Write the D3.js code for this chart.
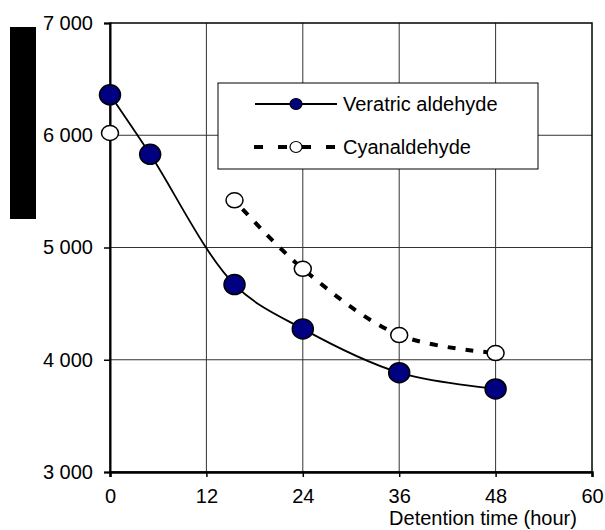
<!DOCTYPE html>
<html>
<head>
<meta charset="utf-8">
<script src="https://cdn.jsdelivr.net/npm/d3@7"></script>
<style>
  body { margin: 0; background: #fff; }
  text { font-family: "Liberation Sans", Arial, sans-serif; }
</style>
</head>
<body>
<div id="container"></div>
<script>
/* DATA */
const hours = [0, 5, 15.5, 24, 36, 48];
const veratric = [6360, 5830, 4670, 4275, 3885, 3740];
const cyanHours = [0, 15.5, 24, 36, 48];
const cyanaldehyde = [6020, 5420, 4810, 4220, 4060];
const xTicks = [0, 12, 24, 36, 48, 60];
const yTicks = [3000, 4000, 5000, 6000, 7000];
const seriesNames = ["Veratric aldehyde", "Cyanaldehyde"];

/* LAYOUT */
const margin = {top: 23, right: 13, bottom: 58, left: 110};
const W = 605, H = 530;
const width = W - margin.left - margin.right;
const height = H - margin.top - margin.bottom;

const svg = d3.select("#container").append("svg")
    .attr("width", W)
    .attr("height", H);

const g = svg.append("g")
    .attr("transform", "translate(" + margin.left + "," + margin.top + ")");

const x = d3.scaleLinear().domain([0, 60]).range([0, width]);
const y = d3.scaleLinear().domain([3000, 7000]).range([height, 0]);

const fmt = d => d3.format(",")(d).replace(",", " ");

// grid lines
g.selectAll("line.vgrid")
  .data(xTicks.slice(1, -1))
  .join("line")
    .attr("x1", d => x(d)).attr("x2", d => x(d))
    .attr("y1", 0).attr("y2", height)
    .attr("stroke", "#333").attr("stroke-width", 1);

g.selectAll("line.hgrid")
  .data(yTicks.slice(1, -1))
  .join("line")
    .attr("x1", 0).attr("x2", width)
    .attr("y1", d => y(d)).attr("y2", d => y(d))
    .attr("stroke", "#333").attr("stroke-width", 1);

// plot frame
g.append("rect")
  .attr("width", width).attr("height", height)
  .attr("fill", "none").attr("stroke", "#000").attr("stroke-width", 1.5);

// axes
const xAxis = g.append("g")
  .attr("transform", "translate(0," + height + ")")
  .call(d3.axisBottom(x).tickValues(xTicks).tickSize(5).tickPadding(12));
xAxis.select(".domain").attr("stroke-width", 2.5);
xAxis.selectAll(".tick line").attr("stroke-width", 1.5);
xAxis.selectAll("text").style("font-size", "20px").style("fill", "#000");

const yAxis = g.append("g")
  .call(d3.axisLeft(y).tickValues(yTicks).tickFormat(fmt).tickSize(6).tickPadding(11));
yAxis.select(".domain").attr("stroke-width", 2);
yAxis.selectAll(".tick line").attr("stroke-width", 1.5);
yAxis.selectAll("text").style("font-size", "20px").style("fill", "#000");

// x axis title
svg.append("text")
  .attr("x", 483).attr("y", 525)
  .attr("text-anchor", "middle")
  .style("font-size", "20px")
  .text("Detention time (hour)");

// blacked-out y label
svg.append("rect")
  .attr("x", 10).attr("y", 27).attr("width", 26).attr("height", 192)
  .attr("fill", "#000");

// lines
const vData = hours.map((h, i) => [h, veratric[i]]);
const cData = cyanHours.map((h, i) => [h, cyanaldehyde[i]]);

const line = d3.line()
  .x(d => x(d[0])).y(d => y(d[1]))
  .curve(d3.curveCatmullRom.alpha(0.5));

g.append("path")
  .datum(vData)
  .attr("d", line)
  .attr("fill", "none").attr("stroke", "#000").attr("stroke-width", 1.8);

g.append("path")
  .datum(cData.slice(1))
  .attr("d", line)
  .attr("fill", "none").attr("stroke", "#000").attr("stroke-width", 4)
  .attr("stroke-dasharray", "8,10")
  .attr("stroke-dashoffset", -12);

// markers
g.selectAll("ellipse.cy")
  .data(cData)
  .join("ellipse")
    .attr("cx", d => x(d[0])).attr("cy", d => y(d[1]))
    .attr("rx", 8.5).attr("ry", 7.5)
    .attr("fill", "#fff").attr("stroke", "#000").attr("stroke-width", 1.5);

g.selectAll("ellipse.ve")
  .data(vData)
  .join("ellipse")
    .attr("cx", d => x(d[0])).attr("cy", d => y(d[1]))
    .attr("rx", 10.5).attr("ry", 10)
    .attr("fill", "#000080").attr("stroke", "#000").attr("stroke-width", 1.5);

// legend
const lg = svg.append("g");
lg.append("rect")
  .attr("x", 218).attr("y", 83).attr("width", 320).attr("height", 86)
  .attr("fill", "#fff").attr("stroke", "#000").attr("stroke-width", 1);

lg.append("line")
  .attr("x1", 255).attr("x2", 337).attr("y1", 104).attr("y2", 104)
  .attr("stroke", "#000").attr("stroke-width", 1.8);
lg.append("ellipse")
  .attr("cx", 296).attr("cy", 104).attr("rx", 6).attr("ry", 5.5)
  .attr("fill", "#000080").attr("stroke", "#000").attr("stroke-width", 1.2);

lg.append("line")
  .attr("x1", 254).attr("x2", 336).attr("y1", 147).attr("y2", 147)
  .attr("stroke", "#000").attr("stroke-width", 4)
  .attr("stroke-dasharray", "9,15");
lg.append("ellipse")
  .attr("cx", 296).attr("cy", 147).attr("rx", 6).attr("ry", 5.5)
  .attr("fill", "#fff").attr("stroke", "#000").attr("stroke-width", 1.2);

lg.selectAll("text")
  .data(seriesNames)
  .join("text")
    .attr("x", 343).attr("y", (d, i) => 111 + i * 43)
    .style("font-size", "20px")
    .text(d => d);
</script>
</body>
</html>
